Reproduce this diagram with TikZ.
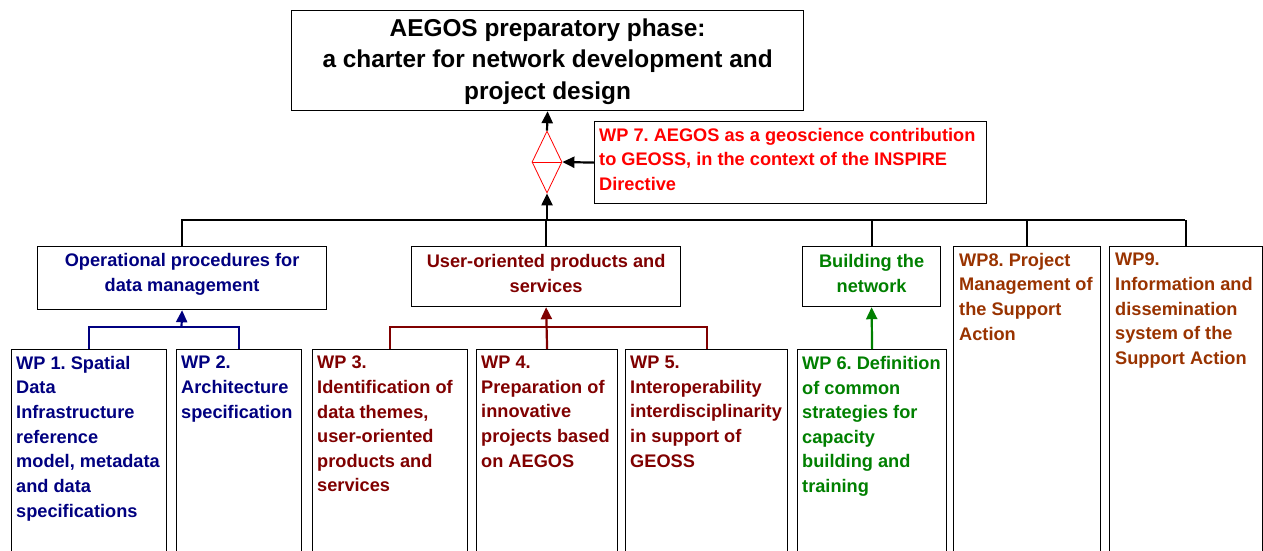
\documentclass[tikz,border=0pt]{standalone}
\usepackage{fontspec}
\setmainfont{Liberation Sans}
\frenchspacing
\usetikzlibrary{shapes.geometric,arrows.meta}
\definecolor{navy}{RGB}{0,0,128}
\definecolor{dred}{RGB}{128,0,0}
\definecolor{dgreen}{RGB}{0,128,0}
\definecolor{wpbrown}{RGB}{153,51,0}
\begin{document}
\begin{tikzpicture}[x=1pt,y=-1pt,
  box/.style={draw=black,line width=1.2pt,inner sep=0pt,anchor=north west},
  lbl/.style={inner sep=0pt,anchor=north west,align=left,font=\fontsize{18.2}{24.6}\selectfont\bfseries},
  clbl/.style={inner sep=0pt,align=center,font=\fontsize{18.2}{24.6}\selectfont\bfseries},
  conn/.style={line width=2.2pt},
  arr/.style={line width=2.2pt,-{Triangle[length=12pt,width=11pt]}},
]
\useasboundingbox (0,0) rectangle (1263,550);
\clip (0,0) rectangle (1263,550);
\fill[white] (0,0) rectangle (1263,550);

% title
\node[box,minimum width=512pt,minimum height=100pt] (title) at (291,10) {};
\node[clbl,font=\fontsize{24.4}{31.5}\selectfont\bfseries] (titlet) at ([yshift=-1pt]title.center) {AEGOS preparatory phase:\\a charter for network development and\\project design};

% WP7 and diamond
\node[box,minimum width=392pt,minimum height=82pt] (wp7) at (594,121) {};
\node[lbl,text=red] (wp7t) at (599,128) {WP 7. AEGOS as a geoscience contribution\\to GEOSS, in the context of the INSPIRE\\Directive};
\node[diamond,draw=red,line width=0.8pt,inner sep=0pt,minimum width=30pt,minimum height=62pt] (dia) at (547,162) {};
\draw[red,line width=0.8pt] (dia.west) -- (dia.east);

% top-level boxes
\node[box,minimum width=289pt,minimum height=63pt] (op) at (37,246) {};
\node[clbl,text=navy] (opt) at ([yshift=4pt]op.center) {Operational procedures for\\data management};
\node[box,minimum width=269pt,minimum height=60pt] (user) at (411,246) {};
\node[clbl,text=dred] (usert) at ([yshift=3pt]user.center) {User-oriented products and\\services};
\node[box,minimum width=138pt,minimum height=60pt] (build) at (802,246) {};
\node[clbl,text=dgreen] (buildt) at ([yshift=3pt]build.center) {Building the\\network};
\node[box,minimum width=147pt,minimum height=340pt] (wp8) at (953,246) {};
\node[lbl,text=wpbrown] (wp8t) at (959,253) {WP8. Project\\Management of\\the Support\\Action};
\node[box,minimum width=153pt,minimum height=340pt] (wp9) at (1109,246) {};
\node[lbl,text=wpbrown] (wp9t) at (1115,253) {WP9.\\Information and\\dissemination\\system of the\\Support Action};

% bottom row
\node[box,minimum width=155pt,minimum height=240pt] (wp1) at (11,349) {};
\node[lbl,text=navy] (wp1t) at (16,356) {WP 1. Spatial\\Data\\Infrastructure\\reference\\model, metadata\\and data\\specifications};
\node[box,minimum width=125pt,minimum height=240pt] (wp2) at (176,349) {};
\node[lbl,text=navy] (wp2t) at (181,356) {WP 2.\\Architecture\\specification};
\node[box,minimum width=155pt,minimum height=240pt] (wp3) at (312,349) {};
\node[lbl,text=dred] (wp3t) at (317,356) {WP 3.\\Identification of\\data themes,\\user-oriented\\products and\\services};
\node[box,minimum width=141pt,minimum height=240pt] (wp4) at (476,349) {};
\node[lbl,text=dred] (wp4t) at (481,356) {WP 4.\\Preparation of\\innovative\\projects based\\on AEGOS};
\node[box,minimum width=162pt,minimum height=240pt] (wp5) at (625,349) {};
\node[lbl,text=dred] (wp5t) at (630,356) {WP 5.\\Interoperability\\interdisciplinarity\\in support of\\GEOSS};
\node[box,minimum width=149pt,minimum height=240pt] (wp6) at (797,349) {};
\node[lbl,text=dgreen] (wp6t) at (802,356) {WP 6. Definition\\of common\\strategies for\\capacity\\building and\\training};

% black connectors
\coordinate (busL) at (181,220);
\coordinate (busR) at (1185,220);
\coordinate (busM) at (547,220);
\draw[line width=2.8pt] (busL) -- (busR);
\draw[conn] (op.north |- busL) -- (op.north);
\draw[conn] (user.north |- busL) -- (user.north);
\draw[conn] (build.north |- busL) -- (build.north);
\draw[conn] (wp8.north |- busL) -- (wp8.north);
\draw[conn] (wp9.north |- busL) -- (wp9.north);
\draw[arr] (busM) -- (dia.south);
\draw[arr] (dia.north) -- (title.south);
\draw[arr] (wp7.west) -- (dia.east);

% coloured connectors
\coordinate (bj) at (181.5,327);
\draw[conn,navy] (wp1.north) |- (bj) -| (wp2.north);
\draw[arr,navy] (bj) -- (op.south);
\coordinate (rj) at (546.5,327);
\draw[conn,dred] (wp3.north) |- (rj) -| (wp5.north);
\draw[arr,dred] (wp4.north) -- (user.south);
\draw[arr,dgreen] (wp6.north) -- (build.south);
\end{tikzpicture}
\end{document}
